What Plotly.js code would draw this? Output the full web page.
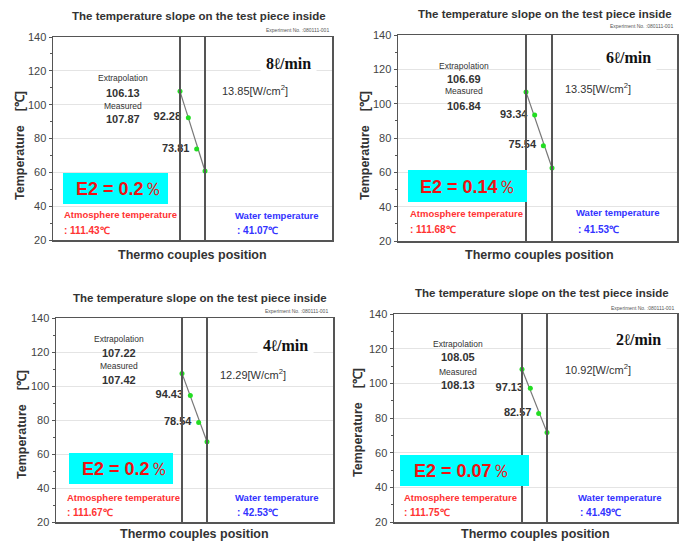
<!DOCTYPE html>
<html><head><meta charset="utf-8">
<script src="https://cdn.plot.ly/plotly-3.0.1.min.js"></script>
<style>body{margin:0;background:#fff}#chart{width:689px;height:546px}</style>
</head><body><div id="chart"></div>
<script>
// ---------- data ----------
const flowRates = ['8', '6', '4', '2'];               // l/min
const tcPositions = [0, 1, 2, 3];                      // thermocouple index through the piece
const measuredT1 = [107.87, 92.28, 73.81, 60.8];
const measuredT2 = [106.84, 93.34, 75.54, 62.5];
const measuredT3 = [107.42, 94.43, 78.54, 67.2];
const measuredT4 = [108.13, 97.13, 82.57, 71.7];
const extrapolation = [106.13, 106.69, 107.22, 108.05];
const measuredSurface = [107.87, 106.84, 107.42, 108.13];
const heatFlux = [13.85, 13.35, 12.29, 10.92];        // W/cm2
const e2Values = ['0.2', '0.14', '0.2', '0.07'];      // %
const atmosphereTemp = [111.43, 111.68, 111.67, 111.75];
const waterTemp = [41.07, 41.53, 42.53, 41.49];
const yTicks = [20, 40, 60, 80, 100, 120, 140];
const chartTitle = 'The temperature slope on the test piece inside';
const experimentNo = 'Experiment No. :080111-001';
const xTitle = 'Thermo couples position';
const yTitle = 'Temperature    [℃]';
const measuredAll = [measuredT1, measuredT2, measuredT3, measuredT4];

// ---------- layout geometry (pixels) ----------
const W = 689, H = 546;
const fx = x => x / W, fy = y => 1 - y / H;
const panels = [
  {l:53, r:332, t:37, b:240, xr:[-15.24,18.24], title:[199,16], exp:[331,30], ext:[123,78,93,106,119],
   rate:[288,63], flux:[220,90], box:[63,168,173,204], e2:[74,189], atm:[62,215,230], wat:[233,216,230], xt:[192,255], yt:[20,146]},
  {l:398, r:677, t:35, b:241, xr:[-14.77,17.42], title:[545,14], exp:[675,26], ext:[464,66,79,91,106],
   rate:[628,58], flux:[563,88], box:[408,527,170,202], e2:[418,187], atm:[408,214,229], wat:[574,213,229], xt:[539,255], yt:[365,146]},
  {l:56, r:333, t:318, b:522, xr:[-15.12,18.12], title:[200,298], exp:[330,311], ext:[119,339,353,366,380],
   rate:[285,345], flux:[218,374], box:[69,173,453,484], e2:[80,469], atm:[65,497,512], wat:[233,497,512], xt:[194,534], yt:[22,425]},
  {l:394, r:677, t:314, b:522, xr:[-15.36,18.6], title:[542,293], exp:[676,308], ext:[458,344,357,372,385],
   rate:[638,339], flux:[563,369], box:[400,529,455,486], e2:[412,471], atm:[402,497,512], wat:[576,497,512], xt:[535,534], yt:[358,423]}
];

const FONT = 'Liberation Sans, Arial, sans-serif';
const traces = [], shapes = [], annotations = [];
const layout = {
  width: W, height: H, margin:{l:0,r:0,t:0,b:0}, showlegend:false,
  paper_bgcolor:'#fff', plot_bgcolor:'#fff', font:{family:FONT, color:'#333'}
};

function ann(x, y, text, opts) {
  annotations.push(Object.assign({xref:'paper', yref:'paper', x:fx(x), y:fy(y), text:text,
    showarrow:false, xanchor:'center', yanchor:'middle', font:{family:FONT, size:9, color:'#333'}}, opts||{}));
}

panels.forEach((p, i) => {
  const n = i === 0 ? '' : String(i + 1);
  const xa = 'x' + n, ya = 'y' + n;
  layout['xaxis' + n] = {domain:[fx(p.l), fx(p.r)], range:p.xr, anchor:ya, showticklabels:false, ticks:'',
    showgrid:false, zeroline:false, showline:true, mirror:true, linecolor:'#555', linewidth:1.5, fixedrange:true};
  layout['yaxis' + n] = {domain:[fy(p.b), fy(p.t)], range:[20,140], anchor:xa, tickvals:yTicks, ticks:'outside',
    ticklen:3, tickcolor:'#555', minor:{dtick:10, ticks:'outside', ticklen:2, tickcolor:'#555', showgrid:false},
    showline:true, mirror:true, linecolor:'#555', linewidth:1.5, zeroline:false,
    showgrid:true, gridcolor:'#e4e4e4', gridwidth:1, tickfont:{family:FONT, size:11, color:'#444'}, fixedrange:true};

  const m = measuredAll[i];
  // piece walls
  [tcPositions[0], tcPositions[tcPositions.length-1]].forEach(xv => shapes.push({type:'line', xref:xa, yref:ya+' domain',
    x0:xv, x1:xv, y0:0, y1:1, line:{color:'#555', width:2}}));
  // fitted slope line
  traces.push({type:'scatter', mode:'lines', xaxis:xa, yaxis:ya, x:[tcPositions[0], tcPositions[3]], y:[m[0], m[3]],
    line:{color:'#777', width:1.2}, hoverinfo:'skip'});
  // labels of the inner thermocouples (invisible spacer marker keeps text off the point)
  const inner = m.slice(1, 3);
  traces.push({type:'scatter', mode:'markers+text', xaxis:xa, yaxis:ya, x:tcPositions.slice(1, 3), y:inner,
    text:inner.map(v => v.toFixed(2)), textposition:'middle left',
    textfont:{family:FONT, size:11, color:'#333', weight:'bold'},
    marker:{size:10, opacity:0, color:'#fff'}});
  // measured points
  traces.push({type:'scatter', mode:'markers', xaxis:xa, yaxis:ya, x:tcPositions, y:m,
    marker:{color:'#22dd22', size:5}});

  // E2 box
  shapes.push({type:'rect', xref:'paper', yref:'paper', x0:fx(p.box[0]), x1:fx(p.box[1]), y0:fy(p.box[3]), y1:fy(p.box[2]),
    fillcolor:'#00ffff', line:{width:0}, layer:'above'});

  ann(p.title[0], p.title[1], '<b>' + chartTitle + '</b>', {font:{family:FONT, size:11.5, color:'#333'}});
  ann(p.exp[0], p.exp[1], experimentNo, {xanchor:'right', font:{family:FONT, size:5, color:'#555'}});
  ann(p.ext[0], p.ext[1], 'Extrapolation', {font:{family:FONT, size:8.5, color:'#333'}});
  ann(p.ext[0], p.ext[2], '<b>' + extrapolation[i].toFixed(2) + '</b>', {font:{family:FONT, size:11, color:'#333'}});
  ann(p.ext[0], p.ext[3], 'Measured', {font:{family:FONT, size:8.5, color:'#333'}});
  ann(p.ext[0], p.ext[4], '<b>' + measuredSurface[i].toFixed(2) + '</b>', {font:{family:FONT, size:11, color:'#333'}});
  ann(p.rate[0], p.rate[1], '<b>' + flowRates[i] + 'ℓ/min</b>', {bgcolor:'#fff', borderpad:5,
    font:{family:'Liberation Serif, Times New Roman, serif', size:16, color:'#111'}});
  ann(p.flux[0], p.flux[1], heatFlux[i].toFixed(2) + '[W/cm<sup>2</sup>]', {xanchor:'left', font:{family:FONT, size:11, color:'#333'}});
  ann(p.e2[0], p.e2[1], '<b>E2 = ' + e2Values[i] + '</b><span style="font-weight:normal">％</span>', {xanchor:'left', font:{family:FONT, size:18, color:'#ee1111'}});
  ann(p.atm[0], p.atm[1], '<b>Atmosphere temperature</b>', {xanchor:'left', font:{family:FONT, size:9.5, color:'#ff3333'}});
  ann(p.atm[0], p.atm[2], '<b>: ' + atmosphereTemp[i].toFixed(2) + '℃</b>', {xanchor:'left', font:{family:FONT, size:10, color:'#ff3333'}});
  ann(p.wat[0], p.wat[1], '<b>Water temperature</b>', {xanchor:'left', font:{family:FONT, size:9.5, color:'#3333ff'}});
  ann(p.wat[0] + 2, p.wat[2], '<b>: ' + waterTemp[i].toFixed(2) + '℃</b>', {xanchor:'left', font:{family:FONT, size:10, color:'#3333ff'}});
  ann(p.xt[0], p.xt[1], '<b>' + xTitle + '</b>', {font:{family:FONT, size:12.5, color:'#333'}});
  ann(p.yt[0], p.yt[1], '<b>' + yTitle + '</b>', {textangle:-90, font:{family:FONT, size:12.5, color:'#333'}});
});

layout.shapes = shapes;
layout.annotations = annotations;
Plotly.newPlot('chart', traces, layout, {displayModeBar:false, staticPlot:true});
</script></body></html>
